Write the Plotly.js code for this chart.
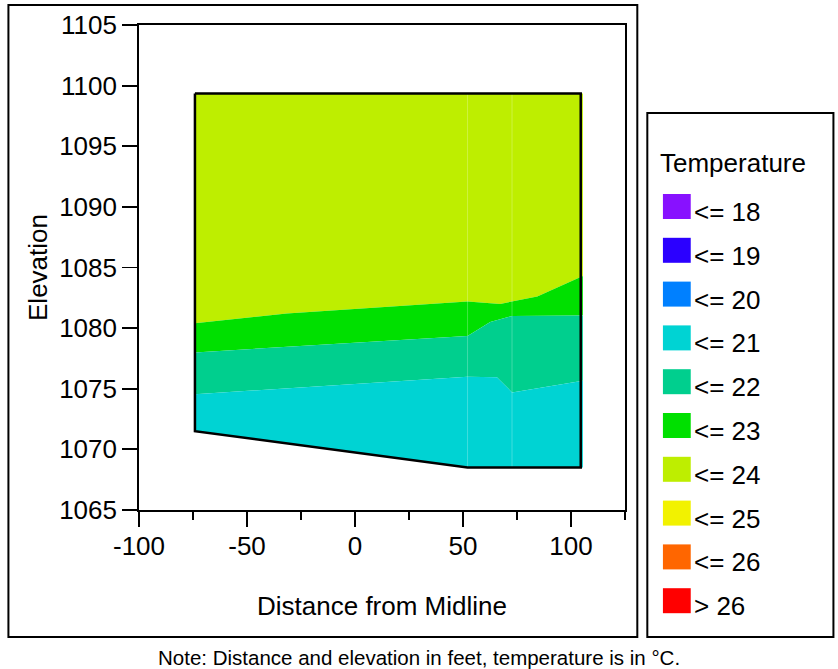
<!DOCTYPE html>
<html>
<head>
<meta charset="utf-8">
<script src="https://cdn.plot.ly/plotly-3.0.1.min.js"></script>
<style>
  html, body { margin: 0; padding: 0; background: #ffffff; }
  #chart { width: 838px; height: 669px; }
</style>
</head>
<body>
<div id="chart"></div>
<script>
// Section outline: distance from midline (ft) and elevation (ft), closed
const outlineX = [-74.1, 104.5, 104.5, 52.1, -74.1, -74.1];
const outlineY = [1099.35, 1099.35, 1068.5, 1068.5, 1071.5, 1099.35];

// Top and bottom edges of the contoured area
const topX = [-74.1, 105.5];
const topY = [1099.35, 1099.35];
const bottomX = [-74.1, 52.1, 105.5];
const bottomY = [1071.5, 1068.5, 1068.5];

// Isotherms separating the temperature bands, listed left to right
const iso24X = [-74.1, -31.6, 52.1, 67.2, 84.4, 105.5];
const iso24Y = [1080.4, 1081.2, 1082.2, 1082.0, 1082.6, 1084.3];
const iso23X = [-74.1, 52.1, 62.6, 72.7, 105.5];
const iso23Y = [1078.0, 1079.35, 1080.5, 1081.0, 1081.05];
const iso22X = [-74.1, 52.1, 65.7, 72.7, 105.5];
const iso22Y = [1074.55, 1076.0, 1075.95, 1074.7, 1075.65];

// Interior mesh columns of the interpolation grid
const meshColX = [52.1, 72.7];
const meshTop = 1099.35;
const meshBottom = 1068.5;

// Temperature classes shown in the key
const legendLabels = ['<= 18', '<= 19', '<= 20', '<= 21', '<= 22', '<= 23', '<= 24', '<= 25', '<= 26', '> 26'];
const legendColors = ['#8811FF', '#2B00FF', '#0080FF', '#00D3D3', '#00CF8E', '#00E000', '#BEEE00', '#F2F200', '#FF6600', '#FF0000'];

// Axis ticks
const xTickVals = [-100, -50, 0, 50, 100];
const yTickVals = [1065, 1070, 1075, 1080, 1085, 1090, 1095, 1100, 1105];

const FONT = 'Liberation Sans, Arial, Helvetica, sans-serif';

function rev(a) { return a.slice().reverse(); }
function colorOf(label) { return legendColors[legendLabels.indexOf(label)]; }

// Each band is the area between its upper and lower boundary
const bands = [
  { label: '<= 24', upX: topX,   upY: topY,   loX: iso24X,  loY: iso24Y },
  { label: '<= 23', upX: iso24X, upY: iso24Y, loX: iso23X,  loY: iso23Y },
  { label: '<= 22', upX: iso23X, upY: iso23Y, loX: iso22X,  loY: iso22Y },
  { label: '<= 21', upX: iso22X, upY: iso22Y, loX: bottomX, loY: bottomY }
];

const traces = bands.map(b => ({
  type: 'scatter',
  mode: 'lines',
  x: b.upX.concat(rev(b.loX)),
  y: b.upY.concat(rev(b.loY)),
  fill: 'toself',
  fillcolor: colorOf(b.label),
  line: { width: 0, color: colorOf(b.label) },
  hoverinfo: 'skip',
  showlegend: false
}));

// Faint grid columns inside the section
meshColX.forEach(cx => {
  traces.push({
    type: 'scatter',
    mode: 'lines',
    x: [cx, cx],
    y: [meshTop, meshBottom],
    line: { color: 'rgba(255,255,255,0.25)', width: 1 },
    hoverinfo: 'skip',
    showlegend: false
  });
});

traces.push({
  type: 'scatter',
  mode: 'lines',
  x: outlineX,
  y: outlineY,
  line: { color: '#000000', width: 2.5 },
  hoverinfo: 'skip',
  showlegend: false
});

// Plot-area pixel frame, used to place the frames and the key
const W = 838, H = 669;
const PL = 139, PR = 624.7, PT = 25, PB = 510;
function fx(p) { return (p - PL) / (PR - PL); }
function fy(p) { return (PB - p) / (PB - PT); }

const shapes = [
  { type: 'rect', xref: 'paper', yref: 'paper',
    x0: fx(8.5), x1: fx(637), y0: fy(637), y1: fy(5),
    line: { color: '#000000', width: 2 }, fillcolor: 'rgba(0,0,0,0)', layer: 'below' },
  { type: 'rect', xref: 'paper', yref: 'paper',
    x0: fx(647), x1: fx(833), y0: fy(637), y1: fy(113),
    line: { color: '#000000', width: 2 }, fillcolor: 'rgba(0,0,0,0)', layer: 'below' }
];

const annotations = [
  { xref: 'paper', yref: 'paper', x: fx(658), y: fy(163), xanchor: 'left', yanchor: 'middle',
    text: 'Temperature', showarrow: false, font: { family: FONT, size: 26, color: '#000000' } },
  { xref: 'paper', yref: 'paper', x: fx(W / 2), y: fy(657), xanchor: 'center', yanchor: 'middle',
    text: 'Note: Distance and elevation in feet, temperature is in °C.', showarrow: false,
    font: { family: FONT, size: 20.5, color: '#000000' } }
];

legendLabels.forEach((lab, i) => {
  const top = 194 + i * 43.8;
  shapes.push({
    type: 'rect', xref: 'paper', yref: 'paper',
    x0: fx(662.6), x1: fx(690.4), y0: fy(top + 25), y1: fy(top),
    line: { width: 0 }, fillcolor: legendColors[i]
  });
  annotations.push({
    xref: 'paper', yref: 'paper', x: fx(692), y: fy(top + 18), xanchor: 'left', yanchor: 'middle',
    text: lab.replace('<', '&lt;').replace('>', '&gt;'), showarrow: false,
    font: { family: FONT, size: 26, color: '#000000' }
  });
});

const axisCommon = {
  showgrid: false,
  zeroline: false,
  showline: true,
  linecolor: '#000000',
  linewidth: 1.8,
  mirror: true,
  ticks: 'outside',
  ticklen: 15,
  tickwidth: 1.8,
  tickcolor: '#000000',
  tickfont: { family: FONT, size: 26, color: '#000000' },
  fixedrange: true
};

const layout = {
  width: W,
  height: H,
  margin: { l: PL, r: W - PR, t: PT, b: H - PB, pad: 0 },
  paper_bgcolor: '#ffffff',
  plot_bgcolor: '#ffffff',
  showlegend: false,
  xaxis: Object.assign({}, axisCommon, {
    range: [-100, 125],
    tickmode: 'array',
    tickvals: xTickVals,
    ticktext: xTickVals.map(String),
    ticklabelstandoff: -3,
    minor: { dtick: 25, tick0: -100, ticks: 'outside', ticklen: 8, tickwidth: 1.8, tickcolor: '#000000' },
    title: { text: 'Distance from Midline', font: { family: FONT, size: 26, color: '#000000' }, standoff: 37 }
  }),
  yaxis: Object.assign({}, axisCommon, {
    range: [1065, 1105],
    tickmode: 'array',
    tickvals: yTickVals,
    ticktext: yTickVals.map(String),
    title: { text: 'Elevation', font: { family: FONT, size: 26, color: '#000000' }, standoff: 4 }
  }),
  shapes: shapes,
  annotations: annotations
};

Plotly.newPlot('chart', traces, layout, { staticPlot: true, displayModeBar: false });
</script>
</body>
</html>
